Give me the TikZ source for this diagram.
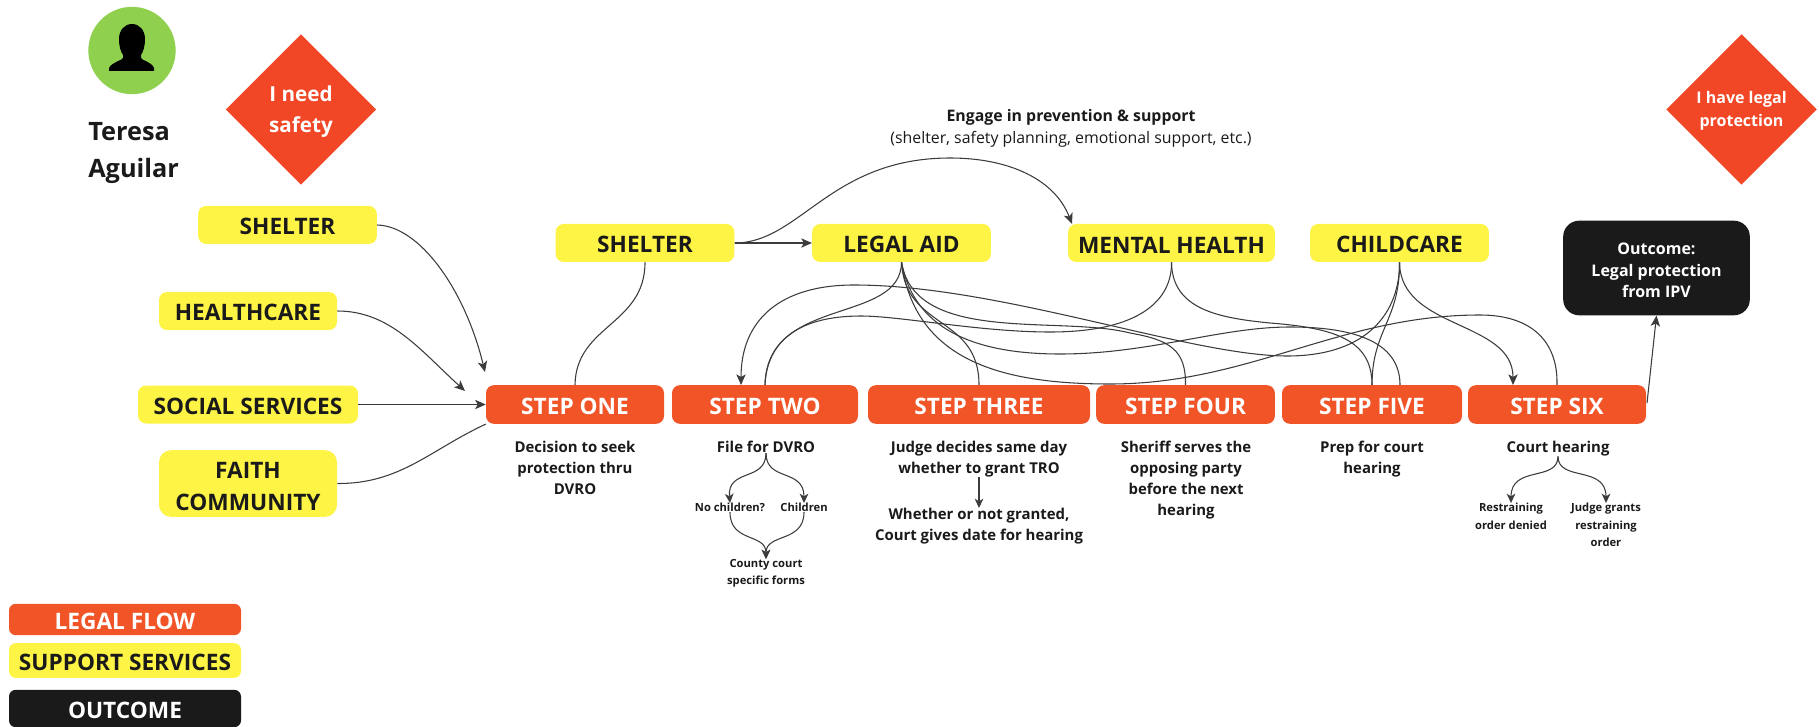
\documentclass[tikz,border=0pt]{standalone}
\usepackage{fontspec}
\setmainfont{Open Sans}
\usepackage{xcolor}
\usetikzlibrary{shapes.geometric,arrows.meta}
\definecolor{flowred}{HTML}{F05427}
\definecolor{goalred}{HTML}{F24726}
\definecolor{serviceyellow}{HTML}{FEF445}
\definecolor{outblack}{HTML}{1A1A1A}
\definecolor{persongreen}{HTML}{8FD14F}
\definecolor{linegray}{HTML}{3C3C3C}
\tikzset{
  boxbase/.style={rectangle,rounded corners=6pt,inner sep=0pt,align=center,font=\bfseries\fontsize{17}{24}\selectfont},
  legalbox/.style={boxbase,fill=flowred,text=white,minimum height=29pt,text height=15pt},
  servicebox/.style={boxbase,fill=serviceyellow,text=outblack,minimum height=28.5pt,text height=15pt},
  goaldiamond/.style={diamond,aspect=1,fill=goalred,text=white,inner sep=0pt,minimum size=113pt,align=center},
  subtext/.style={anchor=north,inner sep=0pt,align=center,text=outblack,font=\bfseries\fontsize{11.2}{15.75}\selectfont},
  tinytext/.style={anchor=north,inner sep=0pt,align=center,text=outblack,font=\bfseries\fontsize{8.4}{13}\selectfont},
  link/.style={draw=linegray,line width=0.8pt},
  arrowlink/.style={link,-{Stealth[length=8pt,width=7pt,inset=2pt]}},
  smallarrow/.style={link,-{Stealth[length=7pt,width=6.5pt,inset=2pt]}}
}
\begin{document}
\begin{tikzpicture}[x=0.75pt,y=0.75pt,yscale=-1,xscale=1]
    \useasboundingbox (0,0) rectangle (1819,727);

    %Person
    \node [circle,fill=persongreen,minimum size=65.5pt,inner sep=0pt] (person) at (132,50.5) {};
    \fill [black] (132,24) .. controls (140,24) and (145,31) .. (145,39) .. controls (145,47) and (143,52) .. (141,55) -- (141,58) .. controls (141,60) and (152,62) .. (154,68) -- (154,71) -- (109,71) -- (109,68) .. controls (112,62) and (123,60) .. (123,58) -- (123,55) .. controls (121,52) and (119,47) .. (119,39) .. controls (119,31) and (124,24) .. (132,24) -- cycle;
    \node [anchor=north west,inner sep=0pt,align=left,text=outblack,font=\bfseries\fontsize{19}{28}\selectfont] (teresa) at (88,122) {Teresa\\Aguilar};

    %Diamonds
    \node [goaldiamond,text height=38.5pt,font=\bfseries\fontsize{15.5}{23.5}\selectfont] (needsafety) at (301,109.5) {I need\\safety};
    \node [goaldiamond,text height=29pt,font=\bfseries\fontsize{12}{17.5}\selectfont] (haveprotection) at (1741.5,109.5) {I have legal\\protection};

    %Left services
    \node [servicebox,minimum width=134pt] (shelterleft) at (287.5,225) {SHELTER};
    \node [servicebox,minimum width=133.5pt] (healthcare) at (248,311) {HEALTHCARE};
    \node [servicebox,minimum width=165pt] (social) at (248,404.5) {SOCIAL SERVICES};
    \node [servicebox,minimum width=133.5pt,minimum height=50pt,rounded corners=9pt,text height=41pt] (faith) at (248,483.5) {FAITH\\COMMUNITY};

    %Top services
    \node [servicebox,minimum width=134pt] (shelter) at (645,243) {SHELTER};
    \node [servicebox,minimum width=134pt] (legalaid) at (901.5,243) {LEGAL AID};
    \node [servicebox,minimum width=155pt] (mental) at (1171.5,243) {MENTAL HEALTH};
    \node [servicebox,minimum width=134pt] (childcare) at (1399.5,243) {CHILDCARE};
    \node [boxbase,rounded corners=12pt,fill=outblack,text=white,minimum width=140pt,minimum height=71pt,text height=45pt,font=\bfseries\fontsize{12}{16.2}\selectfont] (outcome) at (1656.5,268) {Outcome:\\Legal protection\\from IPV};

    %Steps
    \node [legalbox,minimum width=133.5pt] (stepone) at (575,404.5) {STEP ONE};
    \node [legalbox,minimum width=139.5pt] (steptwo) at (765,404.5) {STEP TWO};
    \node [legalbox,minimum width=166.5pt] (stepthree) at (979,404.5) {STEP THREE};
    \node [legalbox,minimum width=134pt] (stepfour) at (1185.5,404.5) {STEP FOUR};
    \node [legalbox,minimum width=135pt] (stepfive) at (1372,404.5) {STEP FIVE};
    \node [legalbox,minimum width=133.5pt] (stepsix) at (1557,404.5) {STEP SIX};

    %Text under the steps
    \node [subtext] (decision) at (575,441) {Decision to seek\\protection thru\\DVRO};
    \node [subtext] (file) at (766,441) {File for DVRO};
    \node [tinytext] (nochildren) at (730,503) {No children?};
    \node [tinytext] (children) at (804,503) {Children};
    \node [tinytext] (forms) at (766,559) {County court\\specific forms};
    \node [subtext] (judge) at (979,441) {Judge decides same day\\whether to grant TRO};
    \node [subtext] (granted) at (979,508) {Whether or not granted,\\Court gives date for hearing};
    \node [subtext] (sheriff) at (1186,441) {Sheriff serves the\\opposing party\\before the next\\hearing};
    \node [subtext] (prep) at (1372,441) {Prep for court\\hearing};
    \node [subtext] (court) at (1558,441) {Court hearing};
    \node [tinytext] (denied) at (1511,503) {Restraining\\order denied};
    \node [tinytext] (grants) at (1606,503) {Judge grants\\restraining\\order};

    \node [inner sep=0pt,align=center,text=outblack,font=\fontsize{11.9}{16.5}\selectfont] (engage) at (1071,128) {\textbf{Engage in prevention \& support}\\(shelter, safety planning, emotional support, etc.)};

    %Legend
    \node [legalbox,minimum width=174pt,minimum height=23.5pt,rounded corners=5pt] (legendlegal) at (125,619.5) {LEGAL FLOW};
    \node [servicebox,minimum width=174pt,minimum height=26pt,rounded corners=5pt] (legendservice) at (125,660.5) {SUPPORT SERVICES};
    \node [boxbase,fill=outblack,text=white,minimum width=174pt,minimum height=28pt,rounded corners=5pt,text height=15pt] (legendoutcome) at (125,708.5) {OUTCOME};

    %Free ends
    \coordinate (onetop) at (485,372);
    \coordinate (onecorner) at (465,391);
    \coordinate (twoin) at (741,385);
    \coordinate (fivein) at (1400,385);
    \coordinate (sixin) at (1513,385);
    \coordinate (mentalin) at (1072,224);
    \coordinate (outfrom) at (1647,403);

    %Into step one
    \draw [arrowlink] (shelterleft.east) .. controls (420,226) and (465,290) .. (onetop);
    \draw [arrowlink] (healthcare.east) .. controls (390,311) and (420,350) .. (onecorner);
    \draw [arrowlink] (social.east) -- (stepone.west);
    \draw [link] (faith.east) .. controls (400,484) and (430,450) .. (stepone.south west);
    \draw [link] (shelter.south) .. controls (645,325) and (576,325) .. (stepone.north);

    %Shelter
    \draw [arrowlink] (shelter.east) -- (legalaid.west);
    \draw [arrowlink] (shelter.east) .. controls (800,243) and (830,158) .. (950,158) .. controls (1010,158) and (1055,180) .. (mentalin);

    %Legal aid
    \draw [link] (legalaid.south) .. controls (901,325) and (767,295) .. (steptwo.north);
    \draw [link] (legalaid.south) .. controls (905,330) and (979,315) .. (stepthree.north);
    \draw [link] (legalaid.south) .. controls (915,345) and (1060,315) .. (1130,333) .. controls (1170,340) and (1186,350) .. (stepfour.north);
    \draw [link] (legalaid.south) .. controls (915,335) and (985,354) .. (1060,354) .. controls (1150,354) and (1220,327) .. (1290,327) .. controls (1370,327) and (1400,350) .. (fivein);
    \draw [link] (legalaid.south) .. controls (915,360) and (1000,384) .. (1110,384) .. controls (1250,384) and (1340,315) .. (1480,315) .. controls (1530,315) and (1558,340) .. (stepsix.north);

    %Mental health
    \draw [link] (mental.south) .. controls (1172,300) and (1140,332) .. (1050,332) .. controls (980,332) and (900,316) .. (861,316) .. controls (800,316) and (767,340) .. (steptwo.north);
    \draw [link] (mental.south) .. controls (1172,310) and (1220,318) .. (1270,323) .. controls (1335,328) and (1372,340) .. (stepfive.north);

    %Childcare
    \draw [arrowlink] (childcare.south) .. controls (1400,310) and (1370,356) .. (1287,356) .. controls (1190,356) and (1000,285) .. (854,285) .. controls (780,285) and (741,320) .. (twoin);
    \draw [link] (childcare.south) .. controls (1400,320) and (1372,330) .. (stepfive.north);
    \draw [arrowlink] (childcare.south) .. controls (1400,330) and (1513,320) .. (sixin);

    %Step six
    \draw [arrowlink] (outfrom) -- (outcome.south);

    %Under the steps
    \draw [smallarrow] (file.south) .. controls (766,482) and (727,468) .. (nochildren.north);
    \draw [smallarrow] (file.south) .. controls (766,482) and (804,468) .. (children.north);
    \draw [smallarrow] (nochildren.south) .. controls (730,543) and (766,533) .. (forms.north);
    \draw [smallarrow] (children.south) .. controls (804,543) and (766,533) .. (forms.north);
    \draw [smallarrow] (judge.south) -- (granted.north);
    \draw [smallarrow] (court.south) .. controls (1558,482) and (1511,465) .. (denied.north);
    \draw [smallarrow] (court.south) .. controls (1558,482) and (1606,465) .. (grants.north);
\end{tikzpicture}
\end{document}
